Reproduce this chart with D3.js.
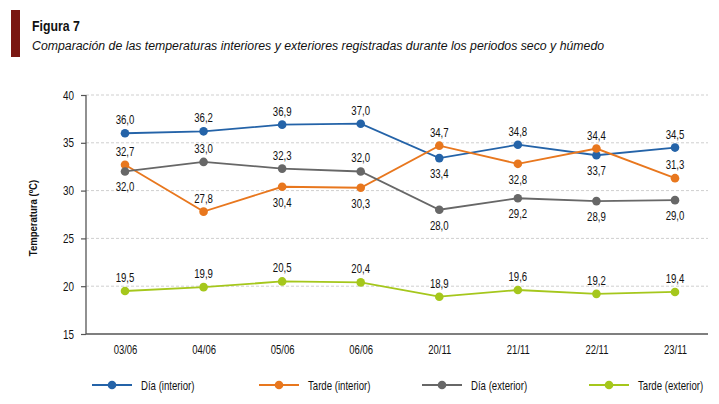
<!DOCTYPE html>
<html><head><meta charset="utf-8">
<script src="https://cdn.jsdelivr.net/npm/d3@7/dist/d3.min.js"></script>
<style>
body{margin:0;background:#fff;}
svg{display:block;font-family:"Liberation Sans",Arial,sans-serif;}
</style></head>
<body>
<svg id="c" width="719" height="404"></svg>
<script>
const categories = ["03/06","04/06","05/06","06/06","20/11","21/11","22/11","23/11"];
const diaInterior   = [36.0, 36.2, 36.9, 37.0, 33.4, 34.8, 33.7, 34.5];
const tardeInterior = [32.7, 27.8, 30.4, 30.3, 34.7, 32.8, 34.4, 31.3];
const diaExterior   = [32.0, 33.0, 32.3, 32.0, 28.0, 29.2, 28.9, 29.0];
const tardeExterior = [19.5, 19.9, 20.5, 20.4, 18.9, 19.6, 19.2, 19.4];
const seriesNames = ["Día (interior)","Tarde (interior)","Día (exterior)","Tarde (exterior)"];
const yTicks = [15,20,25,30,35,40];
// label position: 1 = above, -1 = below
const labelPos = [
  [1,1,1,1,-1,1,-1,1],
  [1,1,-1,-1,1,-1,1,1],
  [-1,1,1,1,-1,-1,-1,-1],
  [1,1,1,1,1,1,1,1]
];
const colors = ["#2463a8","#e8771e","#676767","#a5c71c"];
const series = [diaInterior, tardeInterior, diaExterior, tardeExterior];

// horizontally condense text (emulates a narrow font)
function condense(sel, s){
  sel.each(function(){
    const t = d3.select(this);
    const x = +t.attr("x")||0, y = +t.attr("y")||0;
    const prev = t.attr("transform")||"";
    t.attr("x",0).attr("y",0).attr("transform",`${prev} translate(${x},${y}) scale(${s},1)`);
  });
}

const svg = d3.select("#c");
// title block
svg.append("rect").attr("x",11).attr("y",10).attr("width",9).attr("height",47).attr("fill","#7a1712");
svg.append("text").attr("x",32).attr("y",31).attr("font-size",15).attr("font-weight","bold").attr("fill","#111").text("Figura 7")
  .call(condense,0.82);
svg.append("text").attr("x",32).attr("y",50).attr("font-size",12.3).attr("font-style","italic").attr("fill","#111")
  .text("Comparación de las temperaturas interiores y exteriores registradas durante los periodos seco y húmedo");

const x = d3.scalePoint().domain(categories).range([125,675]);
const y = d3.scaleLinear().domain([15,40]).range([334,95]);
const axL = 86, axR = 708;

// gridlines
svg.append("g").selectAll("line").data(yTicks.filter(d=>d>15)).join("line")
  .attr("x1",axL).attr("x2",axR).attr("y1",d=>y(d)).attr("y2",d=>y(d))
  .attr("stroke","#cfcfcf").attr("stroke-width",1).attr("stroke-dasharray","3,2");

// y axis
const yAxis = svg.append("g").attr("transform",`translate(${axL},0)`)
  .call(d3.axisLeft(y).tickValues(yTicks).tickSize(5).tickPadding(7).tickFormat(d3.format("d")));
yAxis.select(".domain").attr("stroke","#555").attr("stroke-width",1.3).attr("d",`M0,${y(40)}V${y(15)}`);
yAxis.selectAll(".tick line").attr("stroke","#555").attr("stroke-width",1.2);
yAxis.selectAll(".tick text").attr("font-size",12.5).attr("fill","#111").attr("font-family",null).call(condense,0.79);

// x axis
const xAxis = svg.append("g").attr("transform",`translate(0,${y(15)})`)
  .call(d3.axisBottom(x).tickSize(0).tickPadding(11));
xAxis.select(".domain").attr("stroke","#555").attr("stroke-width",1.3).attr("d",`M${axL},0H${axR}`);
xAxis.selectAll(".tick text").attr("font-size",12.5).attr("fill","#111").attr("font-family",null).call(condense,0.76);

// y title
svg.append("text").attr("transform",`translate(37,218) rotate(-90)`).attr("text-anchor","middle")
  .attr("font-size",11.5).attr("font-weight","bold").attr("fill","#111").text("Temperatura (ºC)").call(condense,0.83);

const fmt = v => v.toFixed(1).replace(".",",");
const line = d3.line().x((d,i)=>x(categories[i])).y(d=>y(d));

series.forEach((s,k)=>{
  const g = svg.append("g");
  g.append("path").datum(s).attr("d",line).attr("fill","none").attr("stroke",colors[k]).attr("stroke-width",1.8);
  g.selectAll("circle").data(s).join("circle").attr("cx",(d,i)=>x(categories[i])).attr("cy",d=>y(d))
    .attr("r",4.3).attr("fill",colors[k]);
  g.selectAll("text").data(s).join("text").attr("x",(d,i)=>x(categories[i]))
    .attr("y",(d,i)=> labelPos[k][i]>0 ? y(d)-9 : y(d)+20)
    .attr("text-anchor","middle").attr("font-size",12.5).attr("fill","#111").text(d=>fmt(d))
    .call(condense,0.77);
});

// legend
const legX = [92, 259, 422, 589];
seriesNames.forEach((n,k)=>{
  const g = svg.append("g").attr("transform",`translate(${legX[k]},385)`);
  g.append("line").attr("x1",0).attr("x2",40).attr("stroke",colors[k]).attr("stroke-width",1.8);
  g.append("circle").attr("cx",20).attr("r",4.3).attr("fill",colors[k]);
  g.append("text").attr("x",49).attr("y",4.5).attr("font-size",12.5).attr("fill","#111").text(n).call(condense,0.77);
});
</script>
</body></html>
